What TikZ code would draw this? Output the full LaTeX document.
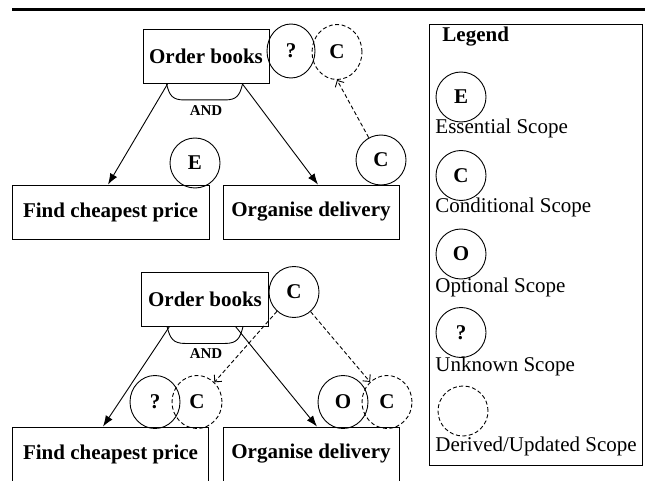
\documentclass[tikz,border=0pt]{standalone}
\usepackage{fontspec}
\setmainfont{Liberation Serif}
\usetikzlibrary{arrows.meta,shapes.geometric}
\tikzset{
  task/.style={draw, rectangle, font=\fontsize{21}{25}\selectfont\bfseries, minimum height=54pt, inner sep=2pt},
  scopemark/.style={draw, ellipse, font=\fontsize{21}{25}\selectfont\bfseries, minimum width=50pt, minimum height=50pt, inner sep=0pt},
  derived/.style={scopemark, dash pattern=on 4pt off 2.5pt},
  andlabel/.style={font=\fontsize{15}{17}\selectfont\bfseries, inner sep=0pt},
  keytitle/.style={font=\fontsize{21}{25}\selectfont\bfseries, anchor=west, inner sep=0pt},
  keytext/.style={font=\fontsize{21}{25}\selectfont, anchor=west, inner sep=0pt},
  refine/.style={-{Latex[length=11pt,width=8pt]}},
  update/.style={dash pattern=on 4pt off 2.5pt, -{Straight Barb[length=5pt,width=10pt]}}
}
\begin{document}
\begin{tikzpicture}[x=1pt, y=-1pt, line width=0.9pt]
  \useasboundingbox (0,0) rectangle (645,481);
  \draw[line width=3pt] (12,10) -- (645,10);

  % first refinement
  \node[task, minimum width=126pt] (ob1) at (206,56.5) {Order books};
  \node[task, minimum width=197pt] (fcp1) at (110.5,212) {Find cheapest price};
  \node[task, minimum width=176pt] (od1) at (311,212) {Organise delivery};
  \node[scopemark, minimum width=48pt, minimum height=54pt] (q1) at (291,51) {?};
  \node[derived, minimum height=55pt] (dc1) at (337,52) {C};
  \node[scopemark] (e1) at (195,163) {E};
  \node[scopemark] (c1) at (381,160) {C};
  \draw[refine] ([xshift=25pt]ob1.south west) -- ([xshift=-2.5pt]fcp1.north);
  \draw[refine] ([xshift=-27pt]ob1.south east) -- ([xshift=7pt]od1.north);
  \draw ([xshift=24pt]ob1.south west) .. controls +(3,12) and +(-12,0) .. ++(18,16)
    -- ++(40,0) .. controls +(12,0) and +(-3,12) .. ++(18,-16);
  \node[andlabel] (and1) at (206,111) {AND};
  \draw[update] (c1) -- (dc1.south);

  % second refinement
  \node[task, minimum width=127pt] (ob2) at (205,299) {Order books};
  \node[task, minimum width=196pt] (fcp2) at (110.5,454) {Find cheapest price};
  \node[task, minimum width=176pt] (od2) at (311,454) {Organise delivery};
  \node[scopemark, minimum height=51pt] (c2) at (294,292) {C};
  \node[scopemark, minimum height=53pt] (q2) at (155,402) {?};
  \node[derived, minimum height=53pt] (dc2) at (197,402) {C};
  \node[scopemark, minimum height=53pt] (o2) at (343,402) {O};
  \node[derived, minimum height=53pt] (dc3) at (387,402) {C};
  \draw[refine] ([xshift=28.5pt]ob2.south west) -- ([xshift=-7.5pt]fcp2.north);
  \draw[refine] ([xshift=-33.5pt]ob2.south east) -- ([xshift=6pt]od2.north);
  \draw ([xshift=26pt]ob2.south west) .. controls +(3,12) and +(-12,0) .. ++(18,17)
    -- ++(40,0) .. controls +(12,0) and +(-3,12) .. ++(18,-17);
  \node[andlabel] (and2) at (206,354) {AND};
  \draw[update] (c2) -- (dc2);
  \draw[update] (c2) -- (dc3);

  % legend
  \node[draw, minimum width=213pt, minimum height=441pt, inner sep=0pt] (legend) at (535.5,244.5) {};
  \node[keytitle] (legendtitle) at (442,37) {Legend};
  \foreach \sym/\kind [count=\i from 0] in {E/Essential, C/Conditional, O/Optional, ?/Unknown} {
    \node[scopemark] (key\i) at (461,97+78.5*\i) {\sym};
    \node[keytext] (keytext\i) at (435,128+79.5*\i) {\kind{} Scope};
  }
  \node[derived] (key4) at (463,411) {};
  \node[keytext] (keytext4) at (435,446) {Derived/Updated Scope};
\end{tikzpicture}
\end{document}
